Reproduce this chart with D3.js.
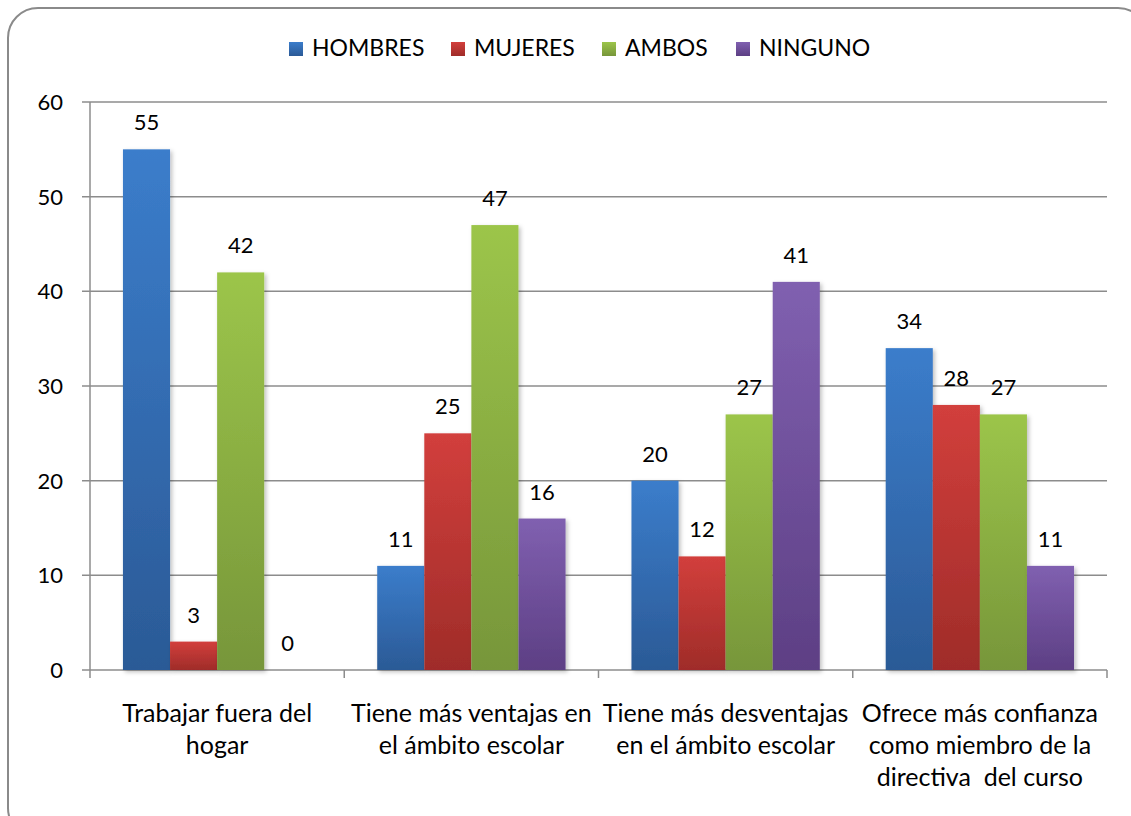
<!DOCTYPE html>
<html><head><meta charset="utf-8">
<script src="https://cdn.jsdelivr.net/npm/d3@7"></script>
<style>body{margin:0;background:#fff}svg{display:block}text{font-family:Lato,"Open Sans",sans-serif;fill:#000;white-space:pre}</style>
</head><body><svg id="c" width="1131" height="816"></svg>
<script>
const categories = [["Trabajar fuera del","hogar"],["Tiene más ventajas en","el ámbito escolar"],["Tiene más desventajas","en el ámbito escolar"],["Ofrece más confianza","como miembro de la","directiva  del curso"]];
const seriesNames = ["HOMBRES","MUJERES","AMBOS","NINGUNO"];
const hombres = [55, 11, 20, 34];
const mujeres = [3, 25, 12, 28];
const ambos = [42, 47, 27, 27];
const ninguno = [0, 16, 41, 11];
const yTicks = [0,10,20,30,40,50,60];
const seriesValues = [hombres, mujeres, ambos, ninguno];
const colorsTop = ["#3b7dcb","#d23f3c","#9cc54a","#8060b0"];
const colorsBot = ["#2b5a96","#9f2c29","#77963a","#5d3f84"];

const svg = d3.select("#c");
const defs = svg.append("defs");
seriesNames.forEach((s,i)=>{
  const g = defs.append("linearGradient").attr("id","g"+i).attr("x1",0).attr("y1",0).attr("x2",0).attr("y2",1);
  g.append("stop").attr("offset","0").attr("stop-color",colorsTop[i]);
  g.append("stop").attr("offset","1").attr("stop-color",colorsBot[i]);
});
const f = defs.append("filter").attr("id","sh").attr("x","-20%").attr("y","-20%").attr("width","140%").attr("height","140%");
f.append("feDropShadow").attr("dx",2).attr("dy",2).attr("stdDeviation",2).attr("flood-color","#000").attr("flood-opacity",0.25);

svg.append("rect").attr("x",8).attr("y",8).attr("width",1140).attr("height",830).attr("rx",30)
  .attr("fill","#fff").attr("stroke","#8a8a8a").attr("stroke-width",2);

const L=90,R=1107,T=102,B=670;
const NUM=22, LAB=25, LEG=23;
const y = d3.scaleLinear().domain([0,60]).range([B,T]);
const x0 = d3.scaleBand().domain(d3.range(categories.length)).range([L,R]).padding(0);
const x1 = d3.scaleBand().domain(d3.range(seriesNames.length)).range([0,x0.bandwidth()]).paddingOuter(0.7).paddingInner(0);

// grid
svg.append("g").selectAll("line").data(yTicks).join("line")
  .attr("x1",L-8).attr("x2",R).attr("y1",d=>y(d)).attr("y2",d=>y(d))
  .attr("stroke","#8c8c8c").attr("stroke-width",1.5);
svg.append("line").attr("x1",L).attr("x2",L).attr("y1",T).attr("y2",B).attr("stroke","#8c8c8c").attr("stroke-width",1.5);
svg.append("g").selectAll("text").data(yTicks).join("text")
  .attr("x",63).attr("y",d=>y(d)+8).attr("text-anchor","end").attr("font-size",NUM).text(d=>d);
// category ticks
svg.append("g").selectAll("line").data(d3.range(categories.length+1)).join("line")
  .attr("x1",d=>L+d*x0.bandwidth()).attr("x2",d=>L+d*x0.bandwidth()).attr("y1",B).attr("y2",B+8)
  .attr("stroke","#8c8c8c").attr("stroke-width",1.5);

// bars
const groups = svg.append("g").selectAll("g").data(categories.map((c,i)=>i)).join("g")
  .attr("transform",i=>`translate(${x0(i)},0)`);
groups.selectAll("rect").data(i=>seriesValues.map((v,s)=>({s,v:v[i]}))).join("rect")
  .attr("x",d=>x1(d.s)).attr("width",x1.bandwidth()).attr("y",d=>y(d.v)).attr("height",d=>B-y(d.v))
  .attr("fill",d=>`url(#g${d.s})`).attr("filter","url(#sh)");
groups.selectAll("text").data(i=>seriesValues.map((v,s)=>({s,v:v[i]}))).join("text")
  .attr("x",d=>x1(d.s)+x1.bandwidth()/2).attr("y",d=>y(d.v)-19).attr("text-anchor","middle").attr("font-size",NUM).text(d=>d.v);

// category labels
const cl = svg.append("g").selectAll("text").data(categories).join("text")
  .attr("x",(d,i)=>x0(i)+x0.bandwidth()/2).attr("y",722).attr("text-anchor","middle").attr("font-size",LAB);
cl.selectAll("tspan").data(d=>d).join("tspan").attr("x",function(){return this.parentNode.getAttribute("x");})
  .attr("dy",(d,i)=>i?32:0).text(d=>d);

// legend
const legX = [289,451,602,736];
const lg = svg.append("g").selectAll("g").data(seriesNames).join("g").attr("transform",(d,i)=>`translate(${legX[i]},42)`);
lg.append("rect").attr("width",14).attr("height",14).attr("fill",(d,i)=>`url(#g${i})`);
lg.append("text").attr("x",23).attr("y",14).attr("font-size",LEG).text(d=>d);
</script></body></html>
